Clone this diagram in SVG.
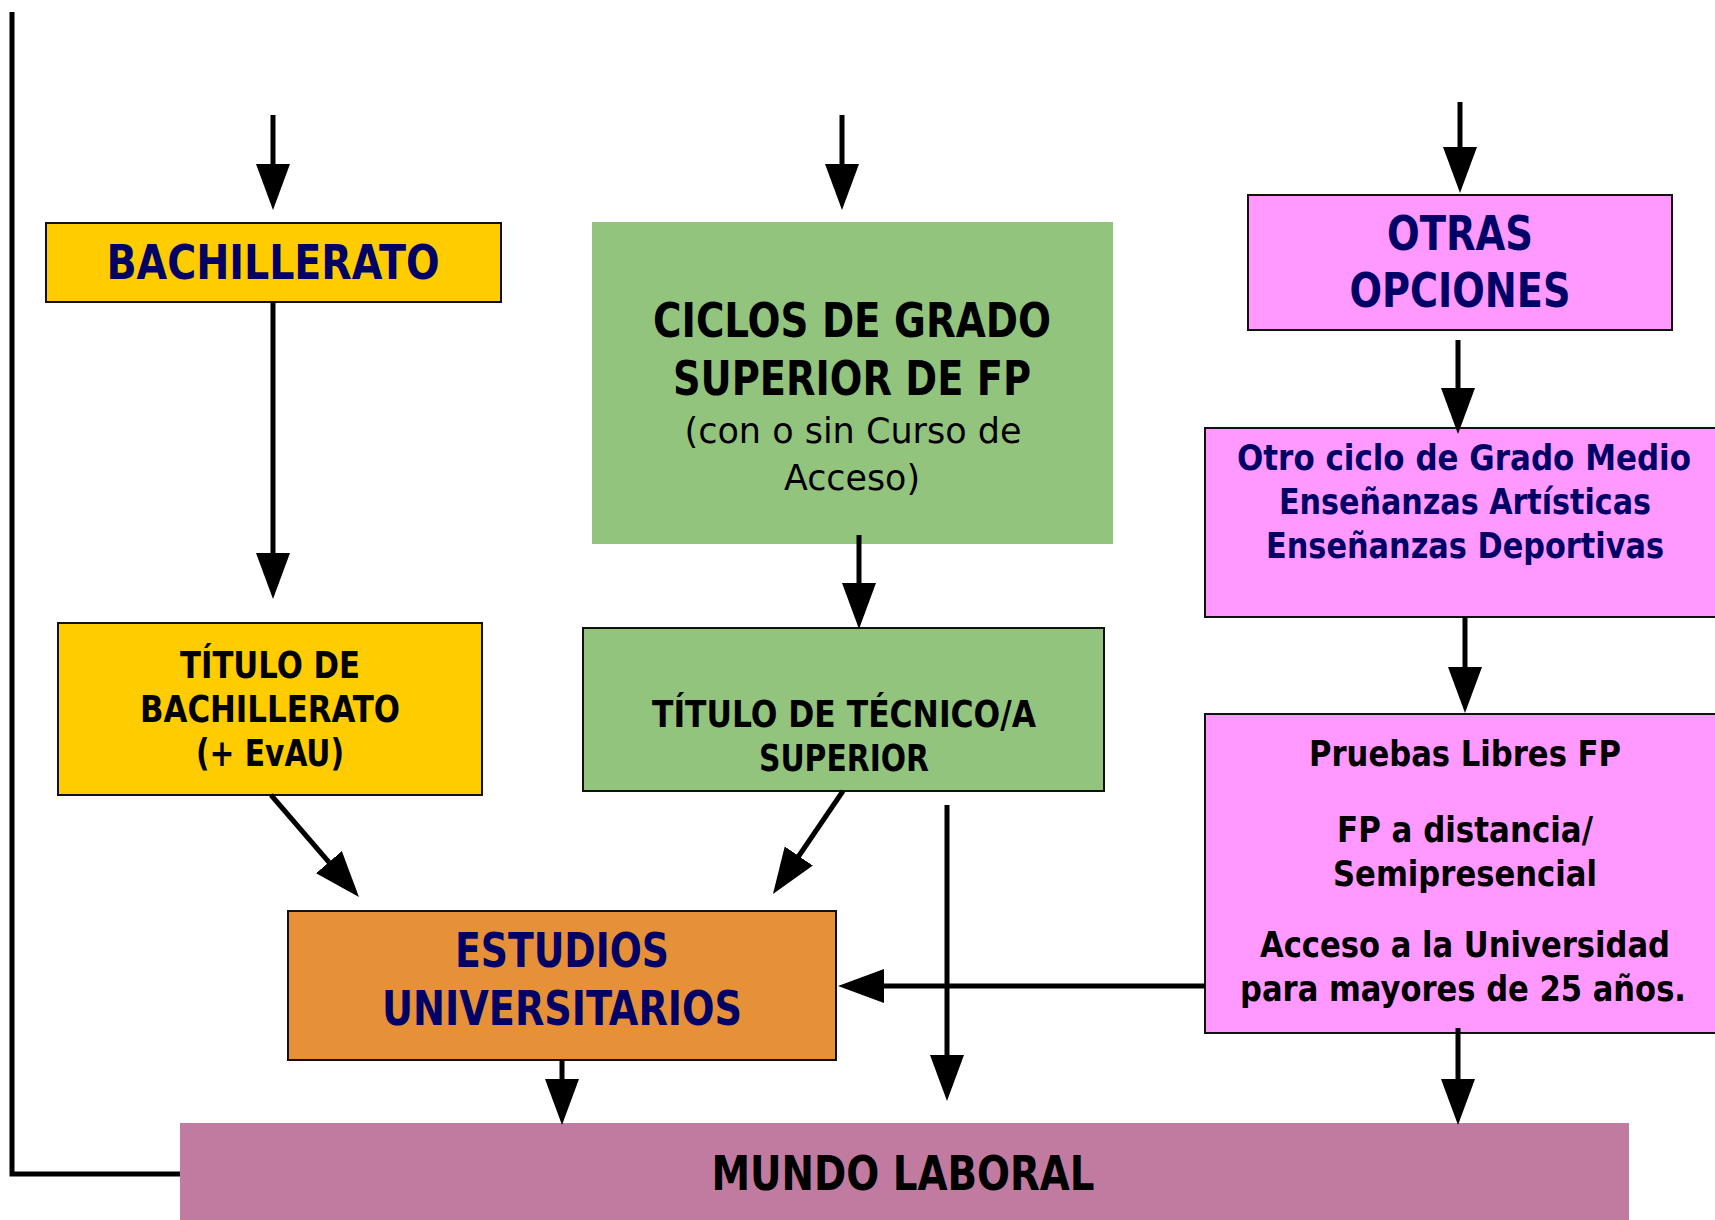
<svg xmlns="http://www.w3.org/2000/svg" width="1715" height="1220" viewBox="0 0 1715 1220">
<style>
.t{font-family:"DejaVu Sans Condensed","DejaVu Sans","Liberation Sans",sans-serif;font-stretch:condensed;font-weight:bold;text-anchor:middle}
.big{font-size:48px}
.mid{font-size:37px;fill:#000}
.pk{font-size:35px}
.navy{fill:#000066}
.blk{fill:#000}
.reg{font-weight:normal;font-size:35px}
.box{stroke:#111;stroke-width:2}
.c{stroke:#000;stroke-width:5;fill:none}
</style>
<defs>
<marker id="ah" markerUnits="userSpaceOnUse" markerWidth="48" markerHeight="36" refX="26" refY="17" orient="auto">
<path d="M0,0 L46,17 L0,34 z" fill="#000"/>
</marker>
</defs>
<rect width="1715" height="1220" fill="#fff"/>

<g id="n-bach">
<rect class="box" x="46" y="223" width="455" height="79" fill="#FFCC00"/>
<text class="t big navy" x="273" y="279" textLength="333" lengthAdjust="spacingAndGlyphs">BACHILLERATO</text>
</g>
<g id="n-ciclos">
<rect x="592" y="222" width="521" height="322" fill="#93C47D"/>
<text class="t big blk" x="852" y="337" textLength="398" lengthAdjust="spacingAndGlyphs">CICLOS DE GRADO</text>
<text class="t big blk" x="852" y="395" textLength="358" lengthAdjust="spacingAndGlyphs">SUPERIOR DE FP</text>
<text class="t reg blk" x="853" y="443" textLength="337" lengthAdjust="spacingAndGlyphs">(con o sin Curso de</text>
<text class="t reg blk" x="852" y="490" textLength="136" lengthAdjust="spacingAndGlyphs">Acceso)</text>
</g>
<g id="n-otras">
<rect class="box" x="1248" y="195" width="424" height="135" fill="#FF99FF"/>
<text class="t big navy" x="1460" y="250" textLength="146" lengthAdjust="spacingAndGlyphs">OTRAS</text>
<text class="t big navy" x="1460" y="307" textLength="221" lengthAdjust="spacingAndGlyphs">OPCIONES</text>
</g>
<g id="n-otro">
<rect class="box" x="1205" y="428" width="520" height="189" fill="#FF99FF"/>
<text class="t pk navy" x="1464" y="470" textLength="454" lengthAdjust="spacingAndGlyphs">Otro ciclo de Grado Medio</text>
<text class="t pk navy" x="1465" y="514" textLength="372" lengthAdjust="spacingAndGlyphs">Enseñanzas Artísticas</text>
<text class="t pk navy" x="1465" y="558" textLength="398" lengthAdjust="spacingAndGlyphs">Enseñanzas Deportivas</text>
</g>
<g id="n-tbach">
<rect class="box" x="58" y="623" width="424" height="172" fill="#FFCC00"/>
<text class="t mid" x="270" y="678" textLength="180" lengthAdjust="spacingAndGlyphs">TÍTULO DE</text>
<text class="t mid" x="270" y="722" textLength="260" lengthAdjust="spacingAndGlyphs">BACHILLERATO</text>
<text class="t mid" x="270" y="766" textLength="148" lengthAdjust="spacingAndGlyphs">(+ EvAU)</text>
</g>
<g id="n-ttec">
<rect class="box" x="583" y="628" width="521" height="163" fill="#93C47D"/>
<text class="t mid" x="844" y="727" textLength="384" lengthAdjust="spacingAndGlyphs">TÍTULO DE TÉCNICO/A</text>
<text class="t mid" x="844" y="771" textLength="170" lengthAdjust="spacingAndGlyphs">SUPERIOR</text>
</g>
<g id="n-pruebas">
<rect class="box" x="1205" y="714" width="520" height="319" fill="#FF99FF"/>
<text class="t pk blk" x="1465" y="766" textLength="312" lengthAdjust="spacingAndGlyphs">Pruebas Libres FP</text>
<text class="t pk blk" x="1465" y="842" textLength="256" lengthAdjust="spacingAndGlyphs">FP a distancia/</text>
<text class="t pk blk" x="1465" y="886" textLength="264" lengthAdjust="spacingAndGlyphs">Semipresencial</text>
<text class="t pk blk" x="1465" y="957" textLength="410" lengthAdjust="spacingAndGlyphs">Acceso a la Universidad</text>
<text class="t pk blk" x="1463" y="1001" textLength="446" lengthAdjust="spacingAndGlyphs">para mayores de 25 años.</text>
</g>
<g id="n-estudios">
<rect class="box" x="288" y="911" width="548" height="149" fill="#E69138"/>
<text class="t big navy" x="562" y="967" textLength="214" lengthAdjust="spacingAndGlyphs">ESTUDIOS</text>
<text class="t big navy" x="562" y="1025" textLength="360" lengthAdjust="spacingAndGlyphs">UNIVERSITARIOS</text>
</g>
<g id="n-mundo">
<rect x="180" y="1123" width="1449" height="100" fill="#C27BA0"/>
<text class="t big blk" x="903" y="1190" textLength="383" lengthAdjust="spacingAndGlyphs">MUNDO LABORAL</text>
</g>

<g id="connectors">
<polyline class="c" points="12,12 12,1174 180,1174"/>
<line class="c" x1="273" y1="115" x2="273" y2="190" marker-end="url(#ah)"/>
<line class="c" x1="842" y1="115" x2="842" y2="190" marker-end="url(#ah)"/>
<line class="c" x1="1460" y1="102" x2="1460" y2="173" marker-end="url(#ah)"/>
<line class="c" x1="273" y1="302" x2="273" y2="579" marker-end="url(#ah)"/>
<line class="c" x1="859" y1="535" x2="859" y2="609" marker-end="url(#ah)"/>
<line class="c" x1="1458" y1="340" x2="1458" y2="414" marker-end="url(#ah)"/>
<line class="c" x1="1465" y1="617" x2="1465" y2="693" marker-end="url(#ah)"/>
<line class="c" x1="271" y1="795" x2="345.9" y2="881.9" marker-end="url(#ah)"/>
<line class="c" x1="843" y1="791" x2="784.2" y2="877.5" marker-end="url(#ah)"/>
<line class="c" x1="947" y1="805" x2="947" y2="1081" marker-end="url(#ah)"/>
<line class="c" x1="1205" y1="986" x2="858" y2="986" marker-end="url(#ah)"/>
<line class="c" x1="562" y1="1060" x2="562" y2="1105" marker-end="url(#ah)"/>
<line class="c" x1="1458" y1="1028" x2="1458" y2="1105" marker-end="url(#ah)"/>
</g>
</svg>
